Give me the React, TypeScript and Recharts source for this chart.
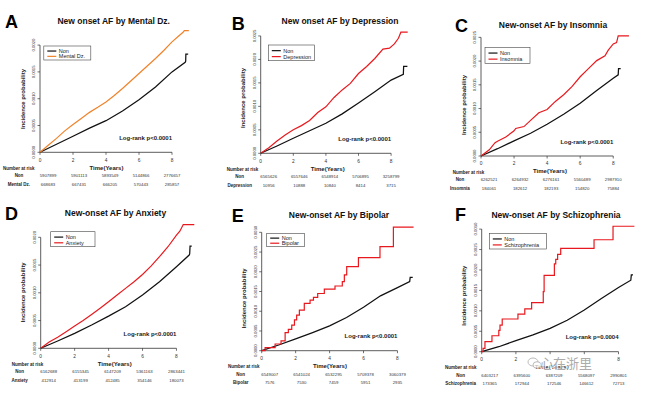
import React from 'react';
import { LineChart, Line, XAxis, YAxis, ReferenceLine } from 'recharts';

type Pt = [number, number];

const timeTicks = [0, 2, 4, 6, 8];
const yTicks20 = [0, 0.0005, 0.001, 0.0015, 0.002];
const yTicks25 = [0, 0.0005, 0.001, 0.0015, 0.002, 0.0025];
const yTicks30 = [0, 0.0005, 0.001, 0.0015, 0.002, 0.0025, 0.003];

// ---- A: Mental Dz.
const nonA: Pt[] = [[0, 0], [1, 0.00015], [2, 0.0003], [3, 0.00045], [4, 0.00059], [5, 0.00077], [6, 0.00098], [7, 0.00122], [8, 0.0015], [8.8, 0.00168], [8.83, 0.0017], [8.84, 0.00183], [8.98, 0.00183]];
const mentalA: Pt[] = [[0, 0], [0.5, 0.00013], [1, 0.00026], [1.5, 0.0004], [2, 0.00052], [2.5, 0.00063], [3, 0.000745], [3.5, 0.00084], [4, 0.00094], [4.5, 0.00106], [5, 0.00119], [5.5, 0.00133], [6, 0.00147], [6.5, 0.00161], [7, 0.00175], [7.5, 0.0019], [8, 0.00206], [8.37, 0.00216], [8.67, 0.00224], [8.75, 0.00227], [9.02, 0.00227]];
const riskNonA = [5907899, 5901113, 5893549, 5144866, 2776657];
const riskMentalA = [668683, 667431, 666205, 570443, 285857];

// ---- B: Depression
const nonB: Pt[] = [[0, 0], [1, 0.000156], [2, 0.00032], [3, 0.00048], [4, 0.00064], [5, 0.00084], [6, 0.00107], [7, 0.00131], [8, 0.00156], [8.75, 0.00168], [8.77, 0.00185], [9.0, 0.00185]];
const depB: Pt[] = [[0, 0], [0.5, 0.00012], [1, 0.00026], [1.5, 0.00039], [2, 0.0005], [2.5, 0.00059], [3, 0.0007], [3.5, 0.00087], [4, 0.00099], [4.5, 0.00119], [5, 0.00135], [5.5, 0.00149], [6, 0.0017], [6.5, 0.00185], [7, 0.00202], [7.5, 0.00222], [7.9, 0.00224], [8.2, 0.00233], [8.45, 0.00245], [8.6, 0.00258], [9.02, 0.00258]];
const riskNonB = [6565626, 6557646, 6548914, 5706895, 3258799];
const riskDepB = [10956, 10888, 10840, 8414, 3715];

// ---- C: Insomnia
const nonC: Pt[] = [[0, 0], [1, 0.000154], [2, 0.00032], [3, 0.00048], [4, 0.00067], [5, 0.00088], [6, 0.00111], [7, 0.00138], [8, 0.00164], [8.3, 0.00171], [8.32, 0.00184], [8.45, 0.00184]];
const insC: Pt[] = [[0, 0], [0.5, 0.00013], [0.85, 0.00028], [1, 0.00031], [1.5, 0.0004], [2, 0.00053], [2.1, 0.00058], [2.6, 0.00062], [3, 0.00075], [3.5, 0.00091], [4, 0.00098], [4.5, 0.00115], [5, 0.00129], [5.5, 0.00146], [6, 0.00167], [6.5, 0.00184], [7, 0.00201], [7.5, 0.00211], [7.7, 0.00223], [8, 0.00236], [8.2, 0.00239], [8.3, 0.00253], [8.95, 0.00253]];
const riskNonC = [6262521, 6264932, 6276161, 5560489, 2987910];
const riskInsC = [184061, 182612, 182193, 154820, 75884];

// ---- D: Anxiety
const nonD: Pt[] = [[0, 0], [1, 0.000132], [2, 0.00027], [3, 0.00042], [4, 0.00058], [5, 0.00075], [6, 0.00096], [7, 0.0012], [8, 0.00147], [8.75, 0.00168], [8.78, 0.0017], [8.8, 0.00184], [8.9, 0.00184]];
const anxD: Pt[] = [[0, 0], [0.5, 0.000114], [1, 0.0002], [1.5, 0.0003], [2, 0.0004], [2.5, 0.0005], [3, 0.00061], [3.5, 0.00072], [4, 0.00084], [4.5, 0.00096], [5, 0.00108], [5.5, 0.0012], [6, 0.00133], [6.5, 0.00148], [7, 0.00165], [7.5, 0.00183], [8, 0.00204], [8.2, 0.00211], [8.4, 0.00223], [9.05, 0.00223]];
const riskNonD = [6162688, 6155345, 6147209, 5361163, 2863441];
const riskAnxD = [412914, 413199, 412485, 354146, 180073];

// ---- E: Bipolar
const nonE: Pt[] = [[0, 0], [1, 0.000144], [2, 0.0003], [3, 0.00046], [4, 0.00063], [5, 0.00084], [6, 0.0011], [7, 0.00139], [8, 0.0016], [8.72, 0.00175], [8.75, 0.00186], [8.9, 0.00186]];
const bipE: Pt[] = [[0, 0], [0.2, 0.000076], [0.79, 0.00017], [1.14, 0.00025], [1.38, 0.00046], [1.57, 0.00054], [1.77, 0.00065], [1.93, 0.00078], [2.06, 0.0009], [2.22, 0.00103], [2.51, 0.0012], [2.85, 0.00128], [3.05, 0.00135], [3.3, 0.00145], [3.69, 0.00156], [4.32, 0.00164], [4.75, 0.00175], [4.87, 0.00192], [5.01, 0.00213], [5.7, 0.00236], [6.97, 0.00264], [7.76, 0.00313], [8.95, 0.00313]];
const riskNonE = [6549007, 6541024, 6532295, 5709378, 3060379];
const riskBipE = [7576, 7530, 7459, 5951, 2935];

// ---- F: Schizophrenia
const nonF: Pt[] = [[0, 0], [1, 0.000122], [2, 0.00027], [3, 0.00041], [4, 0.00057], [5, 0.00077], [6, 0.00102], [7, 0.0013], [8, 0.00157], [8.72, 0.00175], [8.75, 0.00188], [8.85, 0.00188]];
const schF: Pt[] = [[0, 0], [0.08, 0.00008], [0.19, 0.000245], [0.6, 0.00039], [1.0, 0.00052], [1.07, 0.00065], [1.2, 0.0008], [2.12, 0.00092], [2.52, 0.00105], [2.92, 0.0012], [3.6, 0.00147], [3.65, 0.00187], [4.25, 0.00215], [4.33, 0.00226], [4.44, 0.00238], [4.62, 0.00253], [6.57, 0.00274], [7.68, 0.00307], [8.93, 0.00307]];
const riskNonF = [6403217, 6395600, 6387209, 5568097, 2990801];
const riskSchF = [173365, 172944, 172546, 146612, 72713];

const FONT = '"Liberation Sans", Arial, Helvetica, sans-serif';
const ORANGE = '#F0832A';
const RED = '#E8191E';
const BLACK = '#111111';

const toRows = (pts: Pt[]) => pts.map(([t, v]) => ({ t, v }));

type Cfg = {
  ox: number; oy: number; w: number; h: number;
  x0: number; y0: number; pxYr: number; pxMil: number; xMax: number; yMax: number;
  yTicks: number[];
  letter: string; letterX: number; letterY: number;
  title: string; titleX: number; titleY: number;
  legend: [number, number, number, number];
  yLabelY: number; narX: number; timeDx: number;
  non: Pt[]; grp: Pt[]; grpName: string; color: string; step: boolean;
  riskNon: number[]; riskGrp: number[];
  pText: string; watermark?: boolean; hiddenTickLabels?: number[];
};

const panels: Cfg[] = [
  {
    ox: 0, oy: 0, w: 215, h: 200, x0: 40, y0: 152.3, pxYr: 16.5, pxMil: 53.6, xMax: 9.3, yMax: 0.0023,
    yTicks: yTicks20, letter: 'A', letterX: 5, letterY: 28, title: 'New onset AF by Mental Dz.', titleX: 113.7, titleY: 24,
    legend: [43.8, 46, 47, 14], yLabelY: 99, narX: 3, timeDx: 66.5,
    non: nonA, grp: mentalA, grpName: 'Mental Dz.', color: ORANGE, step: false,
    riskNon: riskNonA, riskGrp: riskMentalA, pText: 'Log-rank p<0.0001',
  },
  {
    ox: 215, oy: 0, w: 215, h: 200, x0: 45.7, y0: 153.3, pxYr: 16.3, pxMil: 46.94, xMax: 9.3, yMax: 0.0027,
    yTicks: yTicks25, letter: 'B', letterX: 16.7, letterY: 30, title: 'New onset AF by Depression', titleX: 125, titleY: 24,
    legend: [53.3, 45, 46, 15.7], yLabelY: 98, narX: 11.7, timeDx: 67,
    non: nonB, grp: depB, grpName: 'Depression', color: RED, step: false,
    riskNon: riskNonB, riskGrp: riskDepB, pText: 'Log-rank p<0.0001',
  },
  {
    ox: 430, oy: 0, w: 215, h: 200, x0: 51, y0: 156, pxYr: 16.53, pxMil: 47.46, xMax: 9.3, yMax: 0.0027,
    yTicks: yTicks25, letter: 'C', letterX: 25, letterY: 32, title: 'New-onset AF by Insomnia', titleX: 123, titleY: 28,
    legend: [55, 47.3, 45, 16], yLabelY: 105, narX: 22.7, timeDx: 69,
    non: nonC, grp: insC, grpName: 'Insomnia', color: RED, step: false,
    riskNon: riskNonC, riskGrp: riskInsC, pText: 'Log-rank p<0.0001',
  },
  {
    ox: 0, oy: 200, w: 215, h: 199, x0: 40.7, y0: 148.3, pxYr: 16.97, pxMil: 55.5, xMax: 9.2, yMax: 0.0023,
    yTicks: yTicks20, letter: 'D', letterX: 5, letterY: 20, title: 'New-onset AF by Anxiety', titleX: 115.5, titleY: 15.7,
    legend: [50.7, 31.7, 44.3, 15], yLabelY: 92.3, narX: 11.7, timeDx: 74,
    non: nonD, grp: anxD, grpName: 'Anxiety', color: RED, step: false,
    riskNon: riskNonD, riskGrp: riskAnxD, pText: 'Log-rank p<0.0001',
  },
  {
    ox: 215, oy: 200, w: 215, h: 199, x0: 46.7, y0: 150.7, pxYr: 16.97, pxMil: 39.46, xMax: 9.2, yMax: 0.0032,
    yTicks: yTicks30, letter: 'E', letterX: 16.7, letterY: 21.7, title: 'New-onset AF by Bipolar', titleX: 124, titleY: 18,
    legend: [51.7, 33.3, 37.6, 13.4], yLabelY: 98.3, narX: 13, timeDx: 68.3,
    non: nonE, grp: bipE, grpName: 'Bipolar', color: RED, step: true,
    riskNon: riskNonE, riskGrp: riskBipE, pText: 'Log-rank p<0.0001',
  },
  {
    ox: 430, oy: 200, w: 215, h: 199, x0: 51.7, y0: 151.7, pxYr: 17.1, pxMil: 40.86, xMax: 9.1, yMax: 0.0032,
    yTicks: yTicks30, letter: 'F', letterX: 25, letterY: 20.7, title: 'New-onset AF by Schizophrenia', titleX: 126, titleY: 18,
    legend: [59.3, 33.3, 57.4, 15.7], yLabelY: 95.7, narX: 15, timeDx: 70,
    non: nonF, grp: schF, grpName: 'Schizophrenia', color: RED, step: true,
    riskNon: riskNonF, riskGrp: riskSchF, pText: 'Log-rank p=0.0004', watermark: true, hiddenTickLabels: [4, 6],
  },
];

function Panel({ cfg }: { cfg: Cfg }) {
  const { ox, oy, w, h, x0, y0, pxYr, pxMil, xMax, yMax, yTicks } = cfg;
  const yAxisW = 20;
  const xAxisH = 20;
  const plotTop = y0 - yMax * 1000 * pxMil;
  const plotRight = x0 + xMax * pxYr;
  const margin = { top: plotTop, left: x0 - yAxisW, right: w - plotRight, bottom: h - y0 - xAxisH };
  const topTick = yTicks[yTicks.length - 1];
  const [lx, ly, lw, lh] = cfg.legend;
  const hidden = cfg.hiddenTickLabels || [];

  const XTick = (p: any) => {
    const { x, payload, index } = p;
    const shift = 8 * (1 - index / 4);
    return (
      <g fontFamily={FONT} fill="#333">
        {hidden.includes(payload.value) ? null : (
          <text x={x} y={y0 + 9.3} fontSize={4.8} textAnchor="middle">{payload.value}</text>
        )}
        <text x={x + shift} y={y0 + 25.1} fontSize={4.3} textAnchor="middle">{cfg.riskNon[index]}</text>
        <text x={x + shift} y={y0 + 33.6} fontSize={4.3} textAnchor="middle">{cfg.riskGrp[index]}</text>
      </g>
    );
  };
  const YTick = (p: any) => {
    const { y, payload } = p;
    return (
      <text transform={`translate(${x0 - 4.8},${y}) rotate(-90)`} fontSize={4.2} textAnchor="middle" fill="#333" fontFamily={FONT}>
        {Number(payload.value).toFixed(4)}
      </text>
    );
  };

  return (
    <div style={{ position: 'absolute', left: ox, top: oy, width: w, height: h }}>
      <LineChart width={w} height={h} margin={margin}>
        <XAxis type="number" dataKey="t" domain={[0, xMax]} ticks={timeTicks} interval={0} axisLine={false}
          tickSize={2.5} tickLine={{ stroke: '#333', strokeWidth: 0.7 }} tick={XTick} height={xAxisH} />
        <YAxis type="number" dataKey="v" domain={[0, yMax]} ticks={yTicks} interval={0} axisLine={false}
          tickSize={2.5} tickLine={{ stroke: '#333', strokeWidth: 0.7 }} tick={YTick} width={yAxisW} />
        <ReferenceLine segment={[{ x: 0, y: 0 }, { x: 8, y: 0 }]} stroke="#333" strokeWidth={0.8} ifOverflow="visible" />
        <ReferenceLine segment={[{ x: 0, y: 0 }, { x: 0, y: topTick }]} stroke="#333" strokeWidth={0.8} ifOverflow="visible" />
        <Line data={toRows(cfg.non)} dataKey="v" name="Non" type="linear" stroke={BLACK} strokeWidth={1.25}
          dot={false} activeDot={false} isAnimationActive={false} />
        <Line data={toRows(cfg.grp)} dataKey="v" name={cfg.grpName} type={cfg.step ? 'stepAfter' : 'linear'}
          stroke={cfg.color} strokeWidth={1.2} dot={false} activeDot={false} isAnimationActive={false} />
      </LineChart>
      <svg width={w} height={h} style={{ position: 'absolute', left: 0, top: 0, overflow: 'visible', pointerEvents: 'none' }} fontFamily={FONT}>
        <text x={cfg.letterX} y={cfg.letterY} fontSize={18} fontWeight="bold" fill="#000">{cfg.letter}</text>
        <text x={cfg.titleX} y={cfg.titleY} fontSize={8.5} fontWeight="bold" textAnchor="middle" fill="#111">{cfg.title}</text>
        <text transform={`translate(${x0 - 15.5},${cfg.yLabelY}) rotate(-90)`} fontSize={6} fontWeight="bold" textAnchor="middle" fill="#222">
          Incidence probability
        </text>
        <text x={x0 + cfg.timeDx} y={y0 + 17.2} fontSize={6} fontWeight="bold" textAnchor="middle" fill="#222">Time(Years)</text>
        <text x={cfg.narX} y={y0 + 17.6} fontSize={4.5} fontWeight="bold" fill="#222">Number at risk</text>
        <text x={x0 - 21} y={y0 + 25.1} fontSize={4.5} fontWeight="bold" textAnchor="middle" fill="#222">Non</text>
        <text x={x0 - 21} y={y0 + 33.6} fontSize={4.5} fontWeight="bold" textAnchor="middle" fill="#222">{cfg.grpName}</text>
        <text x={x0 + 8 * pxYr} y={y0 - 12.5} fontSize={6} fontWeight="bold" textAnchor="end" fill="#222">{cfg.pText}</text>
        <rect x={lx} y={ly} width={lw} height={lh} fill="#fff" stroke="#444" strokeWidth={0.6} />
        <line x1={lx + 3.5} x2={lx + 12.5} y1={ly + lh * 0.36} y2={ly + lh * 0.36} stroke={BLACK} strokeWidth={1.2} />
        <line x1={lx + 3.5} x2={lx + 12.5} y1={ly + lh * 0.74} y2={ly + lh * 0.74} stroke={cfg.color} strokeWidth={1.2} />
        <text x={lx + 15} y={ly + lh * 0.36 + 1.9} fontSize={5.5} fill="#222">Non</text>
        <text x={lx + 15} y={ly + lh * 0.74 + 1.9} fontSize={5.5} fill="#222">{cfg.grpName}</text>
        {cfg.watermark ? (
          <g opacity={0.75}>
            <ellipse cx={103} cy={162} rx={5} ry={4} fill="none" stroke="#9a9a9a" strokeWidth={0.9} />
            <ellipse cx={107} cy={165} rx={4} ry={3.3} fill="#fff" stroke="#9a9a9a" strokeWidth={0.9} />
            <text x={110} y={168} fontSize={13} fill="#8f8f8f" fontFamily='"Noto Sans CJK SC", sans-serif'
              stroke="#fff" strokeWidth={1.5} paintOrder="stroke">心在浙里</text>
          </g>
        ) : null}
      </svg>
    </div>
  );
}

export default function App() {
  return (
    <div style={{ position: 'absolute', left: 0, top: 0, width: 645, height: 399, background: '#fff', overflow: 'hidden' }}>
      {panels.map((p) => (
        <Panel key={p.letter} cfg={p} />
      ))}
    </div>
  );
}
